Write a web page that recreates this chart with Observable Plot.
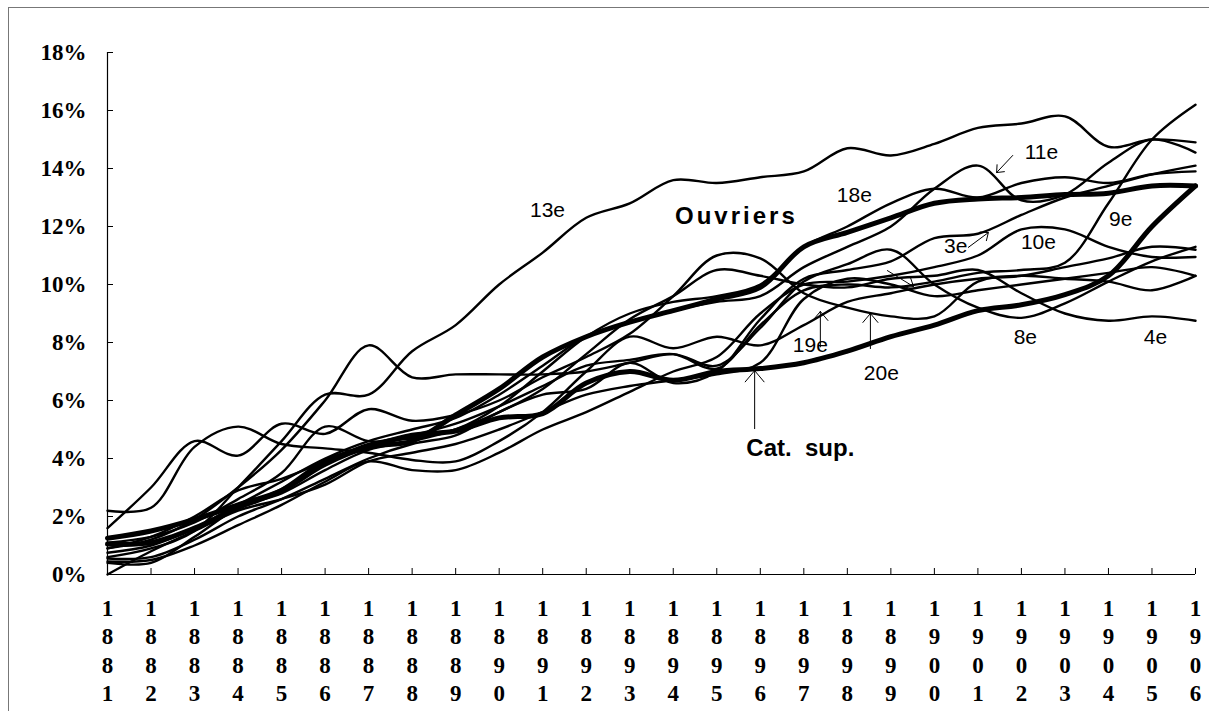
<!DOCTYPE html>
<html><head><meta charset="utf-8">
<script src="https://cdn.jsdelivr.net/npm/d3@7"></script>
<script src="https://cdn.jsdelivr.net/npm/@observablehq/plot@0.6"></script>
<style>
html,body{margin:0;padding:0;background:#fff;overflow:hidden;}
#wrap{position:relative;width:1209px;height:711px;overflow:hidden;}
#frame{position:absolute;left:8px;top:7px;width:1400px;height:900px;border-left:1.5px solid #777;border-top:1.5px solid #777;pointer-events:none;}
</style></head><body><div id="wrap"><div id="chart"></div><div id="frame"></div></div>
<script>
const years = [1881,1882,1883,1884,1885,1886,1887,1888,1889,1890,1891,1892,1893,1894,1895,1896,1897,1898,1899,1900,1901,1902,1903,1904,1905,1906];
const yTicks = [0,2,4,6,8,10,12,14,16,18];

// thick series
const ouvriers = [1.25,1.5,1.9,2.4,2.9,3.8,4.4,4.6,5.5,6.4,7.5,8.2,8.7,9.1,9.5,9.9,11.3,11.8,12.3,12.8,12.95,13.0,13.1,13.15,13.4,13.4];
const catSup   = [1.05,1.1,1.6,2.3,2.9,3.9,4.4,4.8,4.95,5.4,5.55,6.6,7.0,6.7,7.0,7.1,7.3,7.7,8.2,8.6,9.1,9.3,9.65,10.3,12.0,13.4];

// thin series (arrondissements)
const arr13 = [0.6,0.9,1.5,3.0,4.6,6.2,6.2,7.7,8.6,10.0,11.1,12.3,12.8,13.6,13.5,13.7,13.9,14.7,14.45,14.85,15.4,15.55,15.8,14.75,15.0,14.9];
const arr8  = [0.9,1.2,1.9,3.0,4.3,6.0,7.9,6.8,6.9,6.9,6.9,7.0,7.3,7.6,7.2,8.5,10.1,10.7,11.2,10.0,9.2,8.85,9.35,10.1,10.8,11.3];
const arr19 = [2.2,2.3,4.4,5.1,4.5,4.35,4.2,3.95,3.9,4.6,5.6,7.0,8.2,7.8,8.2,7.9,8.6,9.4,9.7,10.0,10.2,10.3,10.6,10.9,11.3,11.2];
const arr20 = [1.6,3.0,4.6,4.1,5.2,4.85,5.7,5.3,5.5,6.0,6.8,7.5,8.3,9.6,11.0,10.9,9.7,9.2,8.9,8.9,10.1,10.3,10.2,10.1,9.8,10.3];
const arr9  = [0.9,1.3,2.0,2.9,3.3,3.9,4.5,4.8,5.2,5.8,6.5,7.2,7.4,7.6,7.1,8.6,9.8,10.0,9.9,10.1,10.4,10.5,10.75,12.8,15.0,16.2];
const arr11 = [0.75,1.0,1.6,2.4,3.2,4.0,4.6,5.0,5.4,6.2,7.2,8.2,8.7,9.1,9.4,9.6,10.6,11.3,12.0,13.3,14.1,12.9,13.1,14.2,15.0,14.55];
const arr3  = [0.55,0.6,1.2,2.0,2.6,3.3,4.0,4.5,4.8,5.6,6.2,6.4,7.3,6.6,7.0,8.8,10.2,10.5,10.8,11.6,11.75,12.4,13.0,13.4,13.8,14.1];
const arr18 = [1.1,1.3,1.8,2.6,3.5,5.1,4.6,4.7,5.0,5.8,7.0,8.2,9.0,9.4,9.6,10.0,11.3,12.0,12.8,13.3,13.0,13.5,13.7,13.5,13.8,13.9];
const arr10 = [0.45,0.5,1.0,1.7,2.4,3.2,3.9,3.6,3.6,4.2,5.0,5.6,6.3,7.0,7.5,9.0,10.0,10.1,10.3,10.6,11.0,11.9,11.9,11.3,10.95,10.95];
const arr4  = [0.4,0.4,1.3,2.3,2.8,3.6,4.3,4.6,5.0,5.6,6.4,7.6,8.8,9.6,10.5,10.3,10.0,9.9,10.2,10.3,10.5,9.7,9.0,8.75,8.9,8.75];
const arrX  = [0.0,0.8,1.5,2.2,2.6,3.1,3.9,4.2,4.5,5.0,5.6,6.2,6.5,6.7,6.9,7.3,9.5,10.2,10.0,9.6,9.8,10.0,10.2,10.4,10.6,10.3];

const thinSeries = [["13e",arr13],["8e",arr8],["19e",arr19],["20e",arr20],["9e",arr9],["11e",arr11],["3e",arr3],["18e",arr18],["10e",arr10],["4e",arr4],["x",arrX]];
const thickSeries = [["Ouvriers",ouvriers],["Cat. sup.",catSup]];

const toRows = list => list.flatMap(([name, vals]) => years.map((year, i) => ({name, year, value: vals[i]})));
const thinRows = toRows(thinSeries);
const thickRows = toRows(thickSeries);

// annotations (data units: year, percent)
const labels = [
  {text:"13e", year:1891.11, value:12.55},
  {text:"18e", year:1898.16, value:13.07},
  {text:"11e", year:1902.46, value:14.55},
  {text:"9e",  year:1904.28, value:12.24},
  {text:"3e",  year:1900.49, value:11.31},
  {text:"10e", year:1902.39, value:11.47},
  {text:"19e", year:1897.15, value:7.91},
  {text:"20e", year:1898.78, value:6.93},
  {text:"8e",  year:1902.09, value:8.17},
  {text:"4e",  year:1905.08, value:8.17}
];
const boldLabels = [
  {text:"Ouvriers", year:1895.45, value:12.34},
  {text:"Cat.\u00a0\u00a0sup.", year:1896.92, value:4.34}
];
const arrows = [
  {x1:1901.80, y1:14.45, x2:1901.43, y2:13.86},
  {x1:1900.78, y1:11.28, x2:1901.24, y2:11.79},
  {x1:1898.92, y1:10.48, x2:1899.52, y2:9.93},
  {x1:1897.38, y1:7.85,  x2:1897.38, y2:9.07},
  {x1:1898.53, y1:7.79,  x2:1898.53, y2:9.0},
  {x1:1895.87, y1:5.03,  x2:1895.87, y2:7.03}
];

const serif = {fontFamily:"Liberation Serif", fontWeight:"bold", fontSize:23};

const chart = Plot.plot({
  width: 1209, height: 711,
  marginLeft: 107, marginRight: 14, marginTop: 52, marginBottom: 137,
  style: {fontFamily:"Liberation Serif", fontSize:"23px", fontWeight:"bold", background:"transparent", color:"black"},
  x: {type:"linear", domain:[1881,1906]},
  y: {domain:[0,18]},
  marks: [
    Plot.ruleX([1881], {stroke:"black", strokeWidth:1.2}),
    Plot.ruleY([0], {stroke:"black", strokeWidth:1.2}),
    Plot.axisY({ticks:yTicks, tickSize:6, dx:6, tickFormat:() => "", label:null}),
    Plot.axisY({ticks:yTicks, tickSize:0, tickPadding:21, tickFormat:d => d + "%", label:null, ...serif}),
    Plot.axisX({ticks:years, tickSize:6, dy:-6, tickFormat:() => "", label:null}),
    Plot.axisX({ticks:years, tickSize:0, tickPadding:21, tickFormat:d => String(d).split("").join("\n"), lineHeight:1.24, label:null, ...serif}),
    Plot.line(thinRows, {x:"year", y:"value", z:"name", curve:"catmull-rom", stroke:"black", strokeWidth:2.4}),
    Plot.line(thickRows, {x:"year", y:"value", z:"name", curve:"catmull-rom", stroke:"black", strokeWidth:5}),
    Plot.arrow(arrows, {x1:"x1", y1:"y1", x2:"x2", y2:"y2", stroke:"black", strokeWidth:1, headAngle:80, headLength:22}),
    Plot.text(labels, {x:"year", y:"value", text:"text", fontFamily:"Liberation Sans", fontWeight:"normal", fontSize:21, fill:"black"}),
    Plot.text(boldLabels, {x:"year", y:"value", text:"text", fontFamily:"Liberation Sans", fontWeight:"bold", fontSize:24, fill:"black"})
  ]
});
document.getElementById("chart").appendChild(chart);
d3.select(chart).selectAll("text").filter(function(){ return this.textContent === "Ouvriers"; }).attr("letter-spacing","3px");
</script></body></html>
